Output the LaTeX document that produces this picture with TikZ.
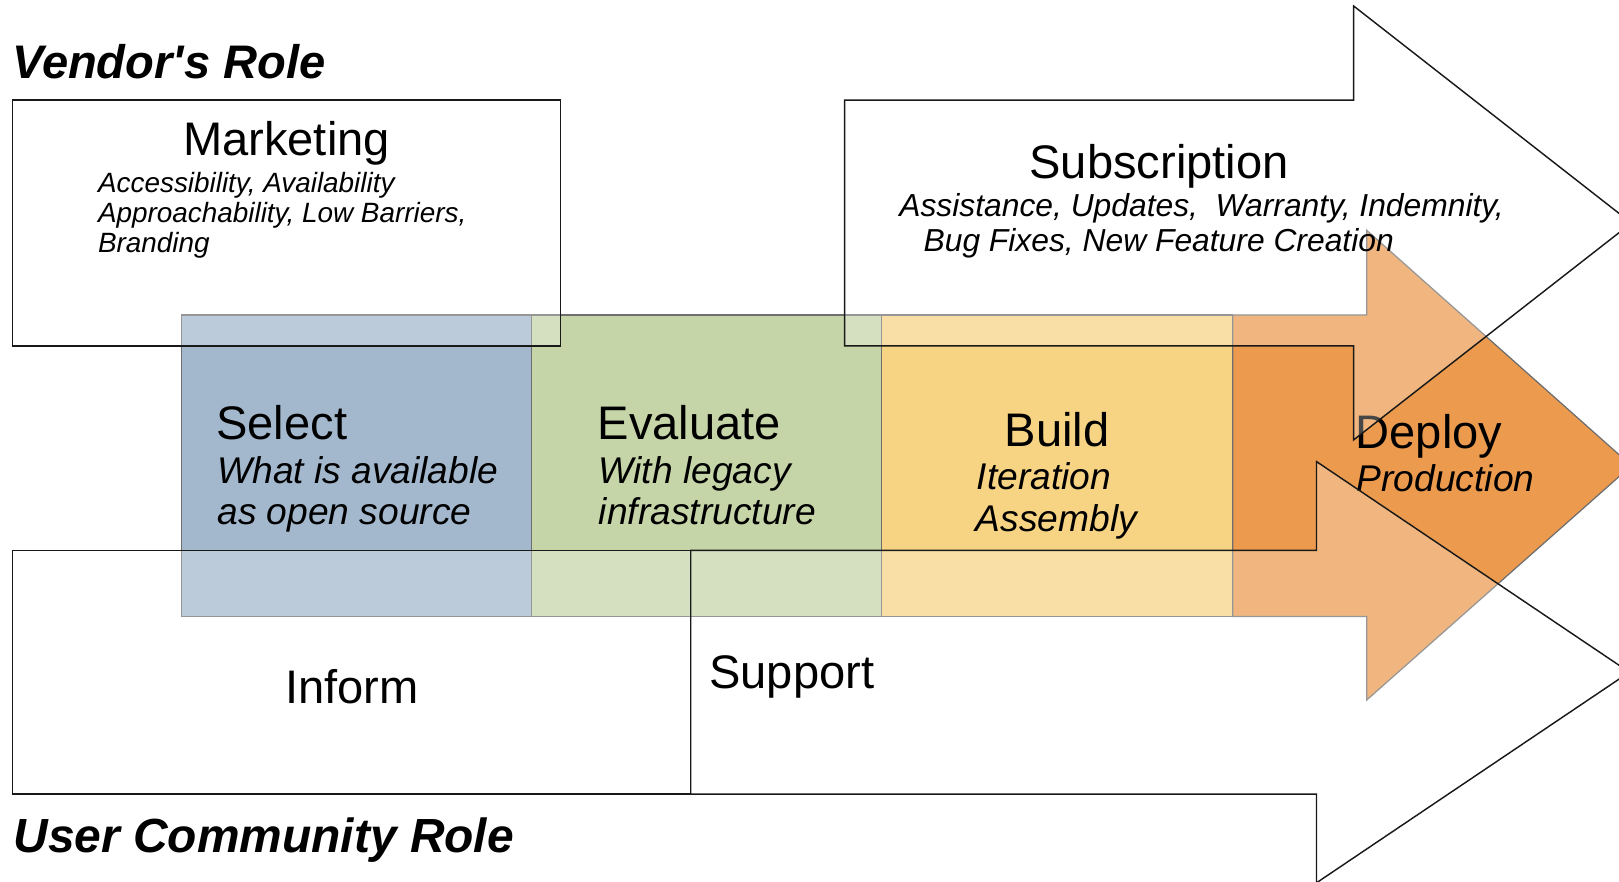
\documentclass[tikz,border=0pt]{standalone}
\usepackage{fontspec}
\setmainfont{Liberation Sans}
\definecolor{cblue}{HTML}{A3B8CD}
\definecolor{cgreen}{HTML}{C5D5A8}
\definecolor{cyellow}{HTML}{F7D484}
\definecolor{corange}{HTML}{EC9B4E}
\definecolor{bandline}{HTML}{6E6E6E}
\begin{document}
\begin{tikzpicture}[x=0.5pt,y=-0.5pt,
  band/.style={draw=bandline,line width=0.6pt},
  veil/.style={draw=black!90,line width=0.7pt,fill=white,fill opacity=0.28},
  txt/.style={inner sep=0pt,outer sep=0pt,text=black},
  big/.style={txt,font=\fontsize{22.8pt}{27pt}\selectfont},
  subt/.style={txt,font=\fontsize{18pt}{20pt}\selectfont\itshape},
  mksub/.style={txt,font=\fontsize{13.5pt}{15pt}\selectfont\itshape},
  scsub/.style={txt,font=\fontsize{15.4pt}{17pt}\selectfont\itshape},
  role/.style={txt,font=\fontsize{22.8pt}{27pt}\selectfont\bfseries\itshape}]
\useasboundingbox (0,0) rectangle (1568,853.3);
\clip (0,0) rectangle (1568,853.3);
\fill[white] (0,0) rectangle (1568,853.3);

% coloured band
\draw[band,fill=cblue] (176,305) rectangle (515,597);
\draw[band,fill=cgreen] (515,305) rectangle (854,597);
\draw[band,fill=cyellow] (854,305) rectangle (1194,597);
\draw[band,fill=corange] (1194,305) -- (1323.6,305) -- (1323.6,223) -- (1580,451)
  -- (1323.6,678) -- (1323.6,597) -- (1194,597) -- cycle;

% band texts
\node[big,anchor=base west] (select) at (209.5,425.4) {Select};
\node[subt,anchor=base west] (select1) at (210.5,468) {What is available};
\node[subt,anchor=base west] (select2) at (210.5,508.3) {as open source};
\node[big,anchor=base west] (evaluate) at (579,425.4) {Evaluate};
\node[subt,anchor=base west] (evaluate1) at (580,468) {With legacy};
\node[subt,anchor=base west] (evaluate2) at (580,508.3) {infrastructure};
\node[big,anchor=base] (build) at (1023.7,432.5) {Build};
\node[subt,anchor=base west] (build1) at (946,474.5) {Iteration};
\node[subt,anchor=base west] (build2) at (945,514.8) {Assembly};
\node[big,anchor=base west] (deploy) at (1313,434) {Deploy};
\node[subt,anchor=base west] (deploy1) at (1314,476) {Production};

% translucent white role shapes
\draw[veil] (12,97) rectangle (543,335);
\draw[veil] (818,97) -- (1311,97) -- (1311,5.8) -- (1580,216) -- (1311,426)
  -- (1311,335) -- (818,335) -- cycle;
\draw[veil] (12,533) rectangle (669,769);
\draw[veil] (669,533) -- (1275,533) -- (1275,447) -- (1578,651) -- (1275,855)
  -- (1275,769) -- (669,769) -- cycle;

% role texts
\node[role,anchor=base west] (vendor) at (12,76) {Vendor\textquotesingle s Role};
\node[role,anchor=base west,font=\fontsize{23.2pt}{28pt}\selectfont\bfseries\itshape] (user) at (13,826) {User Community Role};

\node[big,anchor=base] (marketing) at (277.5,151) {Marketing};
\node[mksub,anchor=base west] (mk1) at (95,186) {Accessibility, Availability};
\node[mksub,anchor=base west] (mk2) at (95,215.5) {Approachability, Low Barriers,};
\node[mksub,anchor=base west] (mk3) at (95,245) {Branding};

\node[big,anchor=base] (subscription) at (1122.5,172.7) {Subscription};
\node[scsub,anchor=base west] (sc1) at (871,209.8) {Assistance, Updates,\ \ Warranty, Indemnity,};
\node[scsub,anchor=base west] (sc2) at (894.5,243.6) {Bug Fixes, New Feature Creation};

\node[big,anchor=base] (inform) at (341,681) {Inform};
\node[big,anchor=base west] (support) at (687,666.5) {Support};
\end{tikzpicture}
\end{document}
